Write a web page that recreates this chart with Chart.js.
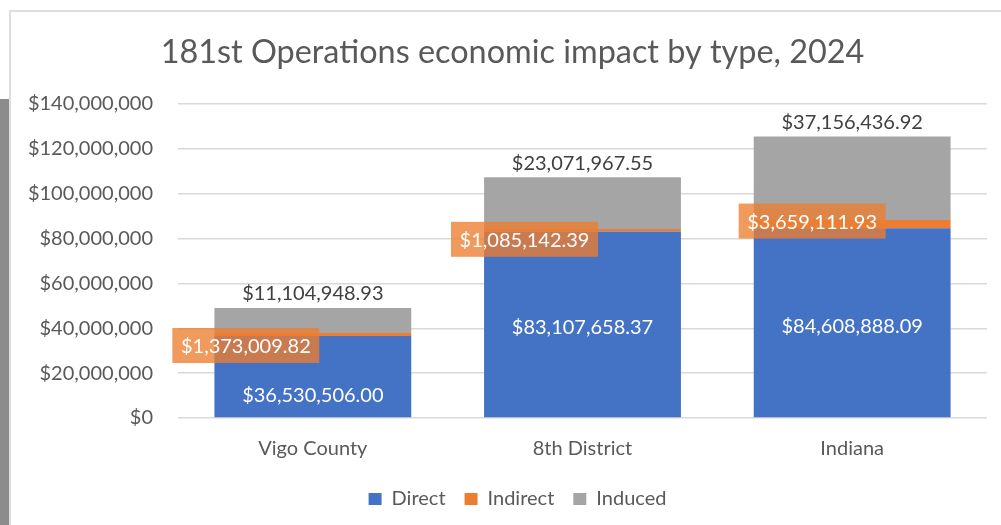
<!DOCTYPE html>
<html>
<head>
<meta charset="utf-8">
<script src="https://cdn.jsdelivr.net/npm/chart.js@4/dist/chart.umd.min.js"></script>
<style>
  html, body { margin: 0; padding: 0; background: #fff; }
  #wrap { position: relative; width: 1001px; height: 525px; overflow: hidden; }
  #strip { position: absolute; left: 0; top: 99px; width: 9px; height: 426px; background: #8c8c8c; }
  #frame { position: absolute; left: 9px; top: 10px; width: 1000px; height: 520px; border-top: 2px solid #dedede; border-left: 2px solid #dedede; }
  #c { position: absolute; left: 0; top: 0; }
</style>
</head>
<body>
<div id="wrap">
  <div id="strip"></div>
  <div id="frame"></div>
  <canvas id="c" width="1001" height="525"></canvas>
</div>
<script>
const categories = ["Vigo County", "8th District", "Indiana"];
const directValues = [36530506.00, 83107658.37, 84608888.09];
const indirectValues = [1373009.82, 1085142.39, 3659111.93];
const inducedValues = [11104948.93, 23071967.55, 37156436.92];
const yTicks = [0, 20000000, 40000000, 60000000, 80000000, 100000000, 120000000, 140000000];

const FONT = "Lato, 'Open Sans', sans-serif";
const fmtMoney = v => "$" + v.toLocaleString("en-US", {minimumFractionDigits: 2, maximumFractionDigits: 2});
const fmtTick = v => "$" + v.toLocaleString("en-US");

// shifts title and legend boxes horizontally after layout
const shiftPlugin = {
  id: "boxShift",
  afterLayout(chart, args, opts) {
    if (chart.titleBlock) { chart.titleBlock.left += opts.title; chart.titleBlock.right += opts.title; }
    if (chart.legend) { chart.legend.left += opts.legend; chart.legend.right += opts.legend; }
  }
};

const labelPlugin = {
  id: "valueLabels",
  afterDatasetsDraw(chart, args, opts) {
    const ctx = chart.ctx;
    ctx.save();
    ctx.font = "20px " + FONT;
    ctx.textBaseline = "middle";
    ctx.textAlign = "center";
    const m0 = chart.getDatasetMeta(0);
    m0.data.forEach((bar, i) => {
      const v = chart.data.datasets[0].data[i];
      ctx.fillStyle = "#ffffff";
      ctx.fillText(fmtMoney(v), bar.x, (bar.y + bar.base) / 2 + opts.directDy[i]);
    });
    const m2 = chart.getDatasetMeta(2);
    m2.data.forEach((bar, i) => {
      const v = chart.data.datasets[2].data[i];
      ctx.fillStyle = "#404040";
      ctx.fillText(fmtMoney(v), bar.x, bar.y - 14);
    });
    const m1 = chart.getDatasetMeta(1);
    m1.data.forEach((bar, i) => {
      const v = chart.data.datasets[1].data[i];
      const cx = bar.x + opts.indirectDx[i];
      const cy = (bar.y + bar.base) / 2 + opts.indirectDy[i];
      const w = 147, h = 35;
      ctx.fillStyle = "rgba(237,125,49,0.78)";
      ctx.fillRect(cx - w / 2, cy - h / 2, w, h);
      ctx.fillStyle = "#ffffff";
      ctx.fillText(fmtMoney(v), cx, cy + 1);
    });
    ctx.restore();
  }
};

new Chart(document.getElementById("c"), {
  type: "bar",
  data: {
    labels: categories,
    datasets: [
      { label: "Direct", data: directValues, backgroundColor: "#4472C4" },
      { label: "Indirect", data: indirectValues, backgroundColor: "#ED7D31" },
      { label: "Induced", data: inducedValues, backgroundColor: "#A5A5A5" }
    ]
  },
  options: {
    responsive: false,
    animation: false,
    layout: { padding: { left: 0, right: 14, top: 0, bottom: 6 } },
    datasets: { bar: { barPercentage: 0.73, categoryPercentage: 1.0, borderWidth: 0 } },
    scales: {
      x: {
        stacked: true,
        grid: { display: false },
        border: { display: false },
        afterFit(scale) { scale.height = 52; },
        ticks: { color: "#595959", font: { family: FONT, size: 20 }, padding: 11 }
      },
      y: {
        stacked: true,
        min: 0, max: 140000000,
        afterBuildTicks(scale) { scale.ticks = yTicks.map(v => ({ value: v })); },
        afterFit(scale) { scale.width = 178; },
        grid: { color: "#d9d9d9", lineWidth: 1.5, drawTicks: false },
        border: { display: false },
        ticks: { color: "#595959", font: { family: FONT, size: 20 }, padding: 25, callback: v => fmtTick(v) }
      }
    },
    plugins: {
      title: {
        display: true,
        text: "181st Operations economic impact by type, 2024",
        color: "#595959",
        font: { family: FONT, size: 32.4, weight: "normal" },
        padding: { top: 33, bottom: 32 }
      },
      legend: {
        position: "bottom",
        labels: { color: "#595959", font: { family: FONT, size: 20 }, boxWidth: 13, boxHeight: 12, padding: 19 }
      },
      tooltip: { enabled: false },
      boxShift: { title: 19, legend: 24 },
      valueLabels: {
        directDy: [19, 3, 4],
        indirectDx: [-67, -58, -40],
        indirectDy: [11, 9, -3]
      }
    }
  },
  plugins: [shiftPlugin, labelPlugin]
});
</script>
</body>
</html>
